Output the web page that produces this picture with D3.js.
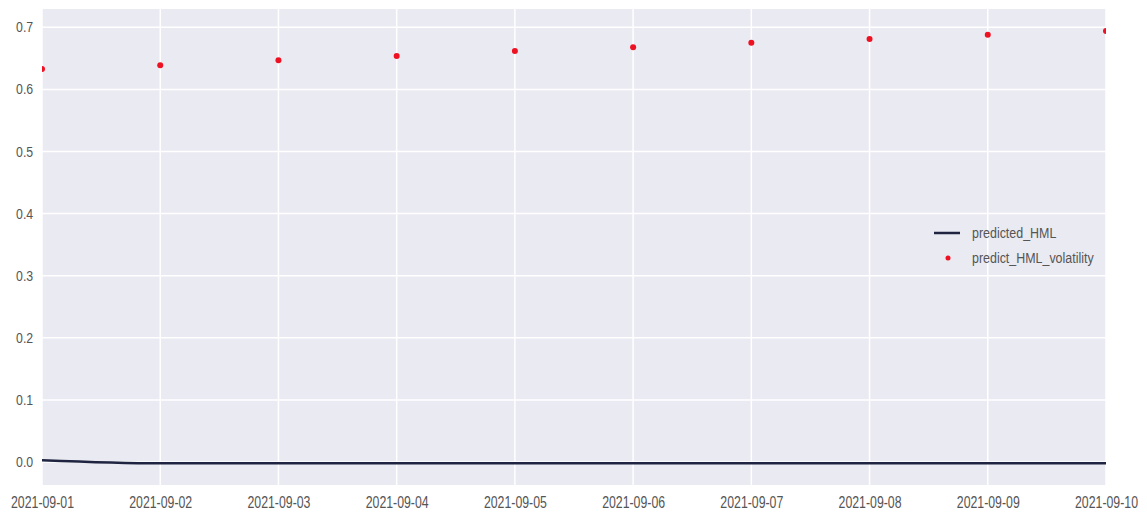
<!DOCTYPE html>
<html><head><meta charset="utf-8">
<script src="https://cdn.jsdelivr.net/npm/d3@7"></script>
<style>body{margin:0;background:#fff}text{font-family:"Liberation Sans",Arial,sans-serif}</style>
</head><body><svg id="c" width="1147" height="516"></svg>
<script>
const dates = ["2021-09-01","2021-09-02","2021-09-03","2021-09-04","2021-09-05","2021-09-06","2021-09-07","2021-09-08","2021-09-09","2021-09-10"];
const predictedHML = [0.003,-0.002,-0.002,-0.002,-0.002,-0.002,-0.002,-0.002,-0.002,-0.002];
const predictVolatility = [0.633,0.639,0.647,0.654,0.662,0.668,0.675,0.681,0.688,0.694];
const yTicks = [0.0,0.1,0.2,0.3,0.4,0.5,0.6,0.7];
const seriesNames = ["predicted_HML","predict_HML_volatility"];

const svg = d3.select("#c");
const m = {l:42, r:1106, t:9, b:485};
const parse = d3.timeParse("%Y-%m-%d");
const x = d3.scaleTime().domain([parse(dates[0]), parse(dates[dates.length-1])]).range([m.l, m.r]);
const y = d3.scaleLinear().domain([-0.037, 0.7295]).range([m.b, m.t]);

svg.append("rect").attr("x",m.l).attr("y",m.t).attr("width",m.r-m.l).attr("height",m.b-m.t).attr("fill","#eaeaf2");
svg.append("defs").append("clipPath").attr("id","clip").append("rect").attr("x",m.l).attr("y",m.t).attr("width",m.r-m.l).attr("height",m.b-m.t);

const g = svg.append("g");
g.selectAll(".vg").data(dates).join("line").attr("x1",d=>x(parse(d))).attr("x2",d=>x(parse(d))).attr("y1",m.t).attr("y2",m.b).attr("stroke","#fff").attr("stroke-width",1.5);
g.selectAll(".hg").data(yTicks).join("line").attr("x1",m.l).attr("x2",m.r).attr("y1",d=>y(d)).attr("y2",d=>y(d)).attr("stroke","#fff").attr("stroke-width",1.5);

const xAxis = d3.axisBottom(x).tickValues(dates.map(parse)).tickFormat(d3.timeFormat("%Y-%m-%d")).tickSize(0).tickPadding(12);
const ax = svg.append("g").attr("transform",`translate(0,${m.b})`).call(xAxis);
ax.select(".domain").remove();
ax.selectAll("text").attr("fill","#555").attr("font-size",16).attr("transform","scale(0.77,1)").style("font-family",'"Liberation Sans",Arial,sans-serif');

const yAxis = d3.axisLeft(y).tickValues(yTicks).tickFormat(d3.format(".1f")).tickSize(0).tickPadding(10);
const ay = svg.append("g").attr("transform",`translate(${m.l},0)`).call(yAxis);
ay.select(".domain").remove();
ay.selectAll("text").attr("fill","#555").attr("font-size",14).attr("transform","scale(0.88,1)").style("font-family",'"Liberation Sans",Arial,sans-serif');

const plot = svg.append("g").attr("clip-path","url(#clip)");
const line = d3.line().x((d,i)=>x(parse(dates[i]))).y(d=>y(d)).curve(d3.curveMonotoneX);
plot.append("path").datum(predictedHML).attr("d",line).attr("fill","none").attr("stroke","#1f2440").attr("stroke-width",2.5);
plot.selectAll(".dot").data(predictVolatility).join("circle").attr("cx",(d,i)=>x(parse(dates[i]))).attr("cy",d=>y(d)).attr("r",3).attr("fill","#ee1122");

const lg = svg.append("g").attr("transform","translate(934,233)");
lg.append("line").attr("x1",0).attr("x2",26).attr("y1",0).attr("y2",0).attr("stroke","#1f2440").attr("stroke-width",2.5);
lg.append("circle").attr("cx",14).attr("cy",25).attr("r",2.5).attr("fill","#ee1122");
lg.selectAll("text").data(seriesNames).join("text").attr("transform",(d,i)=>`translate(38,${i*25+5}) scale(0.83,1)`).attr("font-size",15).attr("fill","#555").text(d=>d);
</script></body></html>
